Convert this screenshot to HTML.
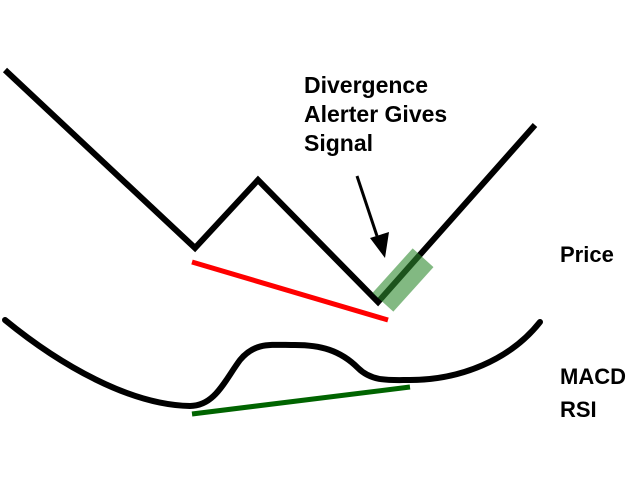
<!DOCTYPE html>
<html><head><style>body{margin:0;background:#fff}svg{display:block}</style></head><body>
<svg width="640" height="480" xmlns="http://www.w3.org/2000/svg" font-family="Liberation Sans, sans-serif" font-weight="bold" font-size="23">
<rect width="640" height="480" fill="#fff"/>
<polyline points="5,70 195,248 258,180 378,302 535,125" fill="none" stroke="#000" stroke-width="6" stroke-linejoin="miter"/>
<line x1="192" y1="262" x2="388" y2="320" stroke="#f00" stroke-width="5"/>
<line x1="192" y1="414" x2="410" y2="387" stroke="#006400" stroke-width="5"/>
<path d="M5,320 C60,365 130,405 190,406 C215,406 225,380 240,360 C255,342 270,345 295,345 C320,345 340,350 358,368 C372,382 390,380 410,380 C460,380 510,360 540,322" fill="none" stroke="#000" stroke-width="6" stroke-linecap="round"/>
<rect x="-14" y="-30" width="28" height="60" fill="#2e8b2e" opacity="0.6" transform="translate(403,280) rotate(42)"/>
<line x1="357" y1="176" x2="377" y2="236" stroke="#000" stroke-width="3"/>
<polygon points="370,238 385,258 389,232" fill="#000"/>
<text x="304" y="93">Divergence</text>
<text x="304" y="122">Alerter Gives</text>
<text x="304" y="151">Signal</text>
<text x="560" y="262" font-size="22">Price</text>
<text x="560" y="384" font-size="22">MACD</text>
<text x="560" y="417" font-size="22">RSI</text>
</svg>
</body></html>
